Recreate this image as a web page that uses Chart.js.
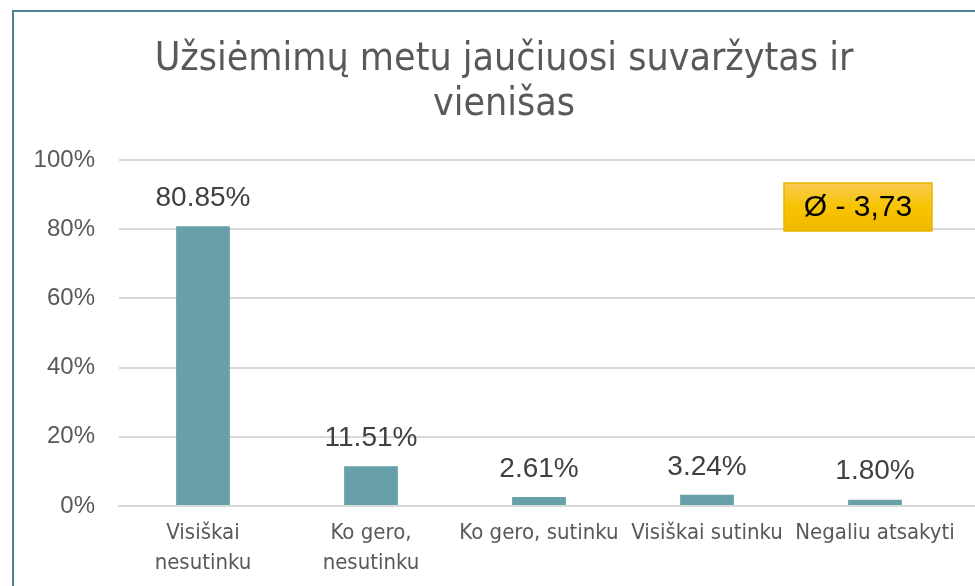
<!DOCTYPE html>
<html>
<head>
<meta charset="utf-8">
<script src="https://cdn.jsdelivr.net/npm/chart.js@4"></script>
<style>
  html, body { margin: 0; padding: 0; background: #ffffff; }
  #wrap { width: 975px; height: 586px; position: relative; }
</style>
</head>
<body>
<div id="wrap"><canvas id="chart" width="975" height="586"></canvas></div>
<script>
// duomenys
const categories = [
    ["Visiškai", "nesutinku"],
    ["Ko gero,", "nesutinku"],
    "Ko gero, sutinku",
    "Visiškai sutinku",
    "Negaliu atsakyti"
];
const values = [80.85, 11.51, 2.61, 3.24, 1.80];
const yTicks = [0, 20, 40, 60, 80, 100];
const titleLines = ["Užsiėmimų metu jaučiuosi suvaržytas ir", "vienišas"];
const badgeText = "Ø - 3,73";

const narrow = "'Liberation Sans Narrow', 'DejaVu Sans Condensed', 'Liberation Sans', sans-serif";
const plain = "'Liberation Sans', 'Open Sans', sans-serif";
const grey = "#595959";

// remelis, pavadinimas ir tinklelio tesinys
const framePlugin = {
    id: "frame",
    beforeDraw(chart) {
        const c = chart.ctx;
        c.save();
        c.strokeStyle = "#4f8591";
        c.lineWidth = 2;
        c.beginPath();
        c.moveTo(13, chart.height);
        c.lineTo(13, 11);
        c.lineTo(chart.width, 11);
        c.stroke();

        const y = chart.scales.y;
        c.strokeStyle = "#d9d9d9";
        c.lineWidth = 2;
        yTicks.forEach(v => {
            const py = Math.round(y.getPixelForValue(v));
            c.beginPath();
            c.moveTo(chart.chartArea.right, py);
            c.lineTo(chart.width, py);
            c.stroke();
        });

        // pavadinimas
        c.fillStyle = grey;
        c.font = "39px " + narrow;
        c.textAlign = "center";
        c.textBaseline = "middle";
        titleLines.forEach((t, i) => c.fillText(t, 504, 60 + i * 45));
        c.restore();
    }
};

// reiksmiu etiketes ir vidurkio zenkliukas
const labelPlugin = {
    id: "labels",
    afterDatasetsDraw(chart) {
        const c = chart.ctx;
        const meta = chart.getDatasetMeta(0);
        c.save();
        c.font = "28px " + plain;
        c.fillStyle = "#404040";
        c.textAlign = "center";
        c.textBaseline = "middle";
        meta.data.forEach((bar, i) => {
            c.fillText(values[i].toFixed(2) + "%", bar.x, bar.y - 28);
        });

        // zenkliukas
        const bx = 784, by = 183, bw = 148, bh = 48;
        const g = c.createLinearGradient(0, by, 0, by + bh);
        g.addColorStop(0, "#f8ca55");
        g.addColorStop(0.5, "#f8c400");
        g.addColorStop(1, "#efb800");
        c.fillStyle = g;
        c.fillRect(bx, by, bw, bh);
        c.strokeStyle = "#e8b600";
        c.lineWidth = 1.5;
        c.strokeRect(bx, by, bw, bh);
        c.fillStyle = "#000000";
        c.font = "30px " + plain;
        c.fillText(badgeText, bx + bw / 2, by + bh / 2 + 1);
        c.restore();
    }
};

const ctx = document.getElementById("chart").getContext("2d");
new Chart(ctx, {
    type: "bar",
    data: {
        labels: categories,
        datasets: [{
            data: values,
            backgroundColor: "#68a0aa",
            categoryPercentage: 1,
            barPercentage: 0.32
        }]
    },
    options: {
        responsive: false,
        animation: false,
        layout: { padding: { left: 14, right: 16, top: 160, bottom: 0 } },
        plugins: {
            legend: { display: false },
            tooltip: { enabled: false },
            title: { display: false }
        },
        scales: {
            x: {
                grid: { display: false, drawTicks: false },
                border: { display: true, color: "#d9d9d9", width: 2 },
                ticks: {
                    color: grey,
                    font: { family: narrow, size: 22, lineHeight: 1.38 },
                    padding: 12,
                    maxRotation: 0,
                    autoSkip: false
                },
                afterFit(scale) { scale.height = 80; }
            },
            y: {
                min: 0,
                max: 100,
                afterBuildTicks(scale) {
                    scale.ticks = yTicks.map(v => ({ value: v }));
                },
                grid: { color: "#d9d9d9", lineWidth: 2, drawTicks: false },
                border: { display: false },
                ticks: {
                    color: grey,
                    font: { family: plain, size: 24 },
                    padding: 24,
                    callback: v => v + "%"
                },
                afterFit(scale) { scale.width = 105; }
            }
        }
    },
    plugins: [framePlugin, labelPlugin]
});
</script>
</body>
</html>
